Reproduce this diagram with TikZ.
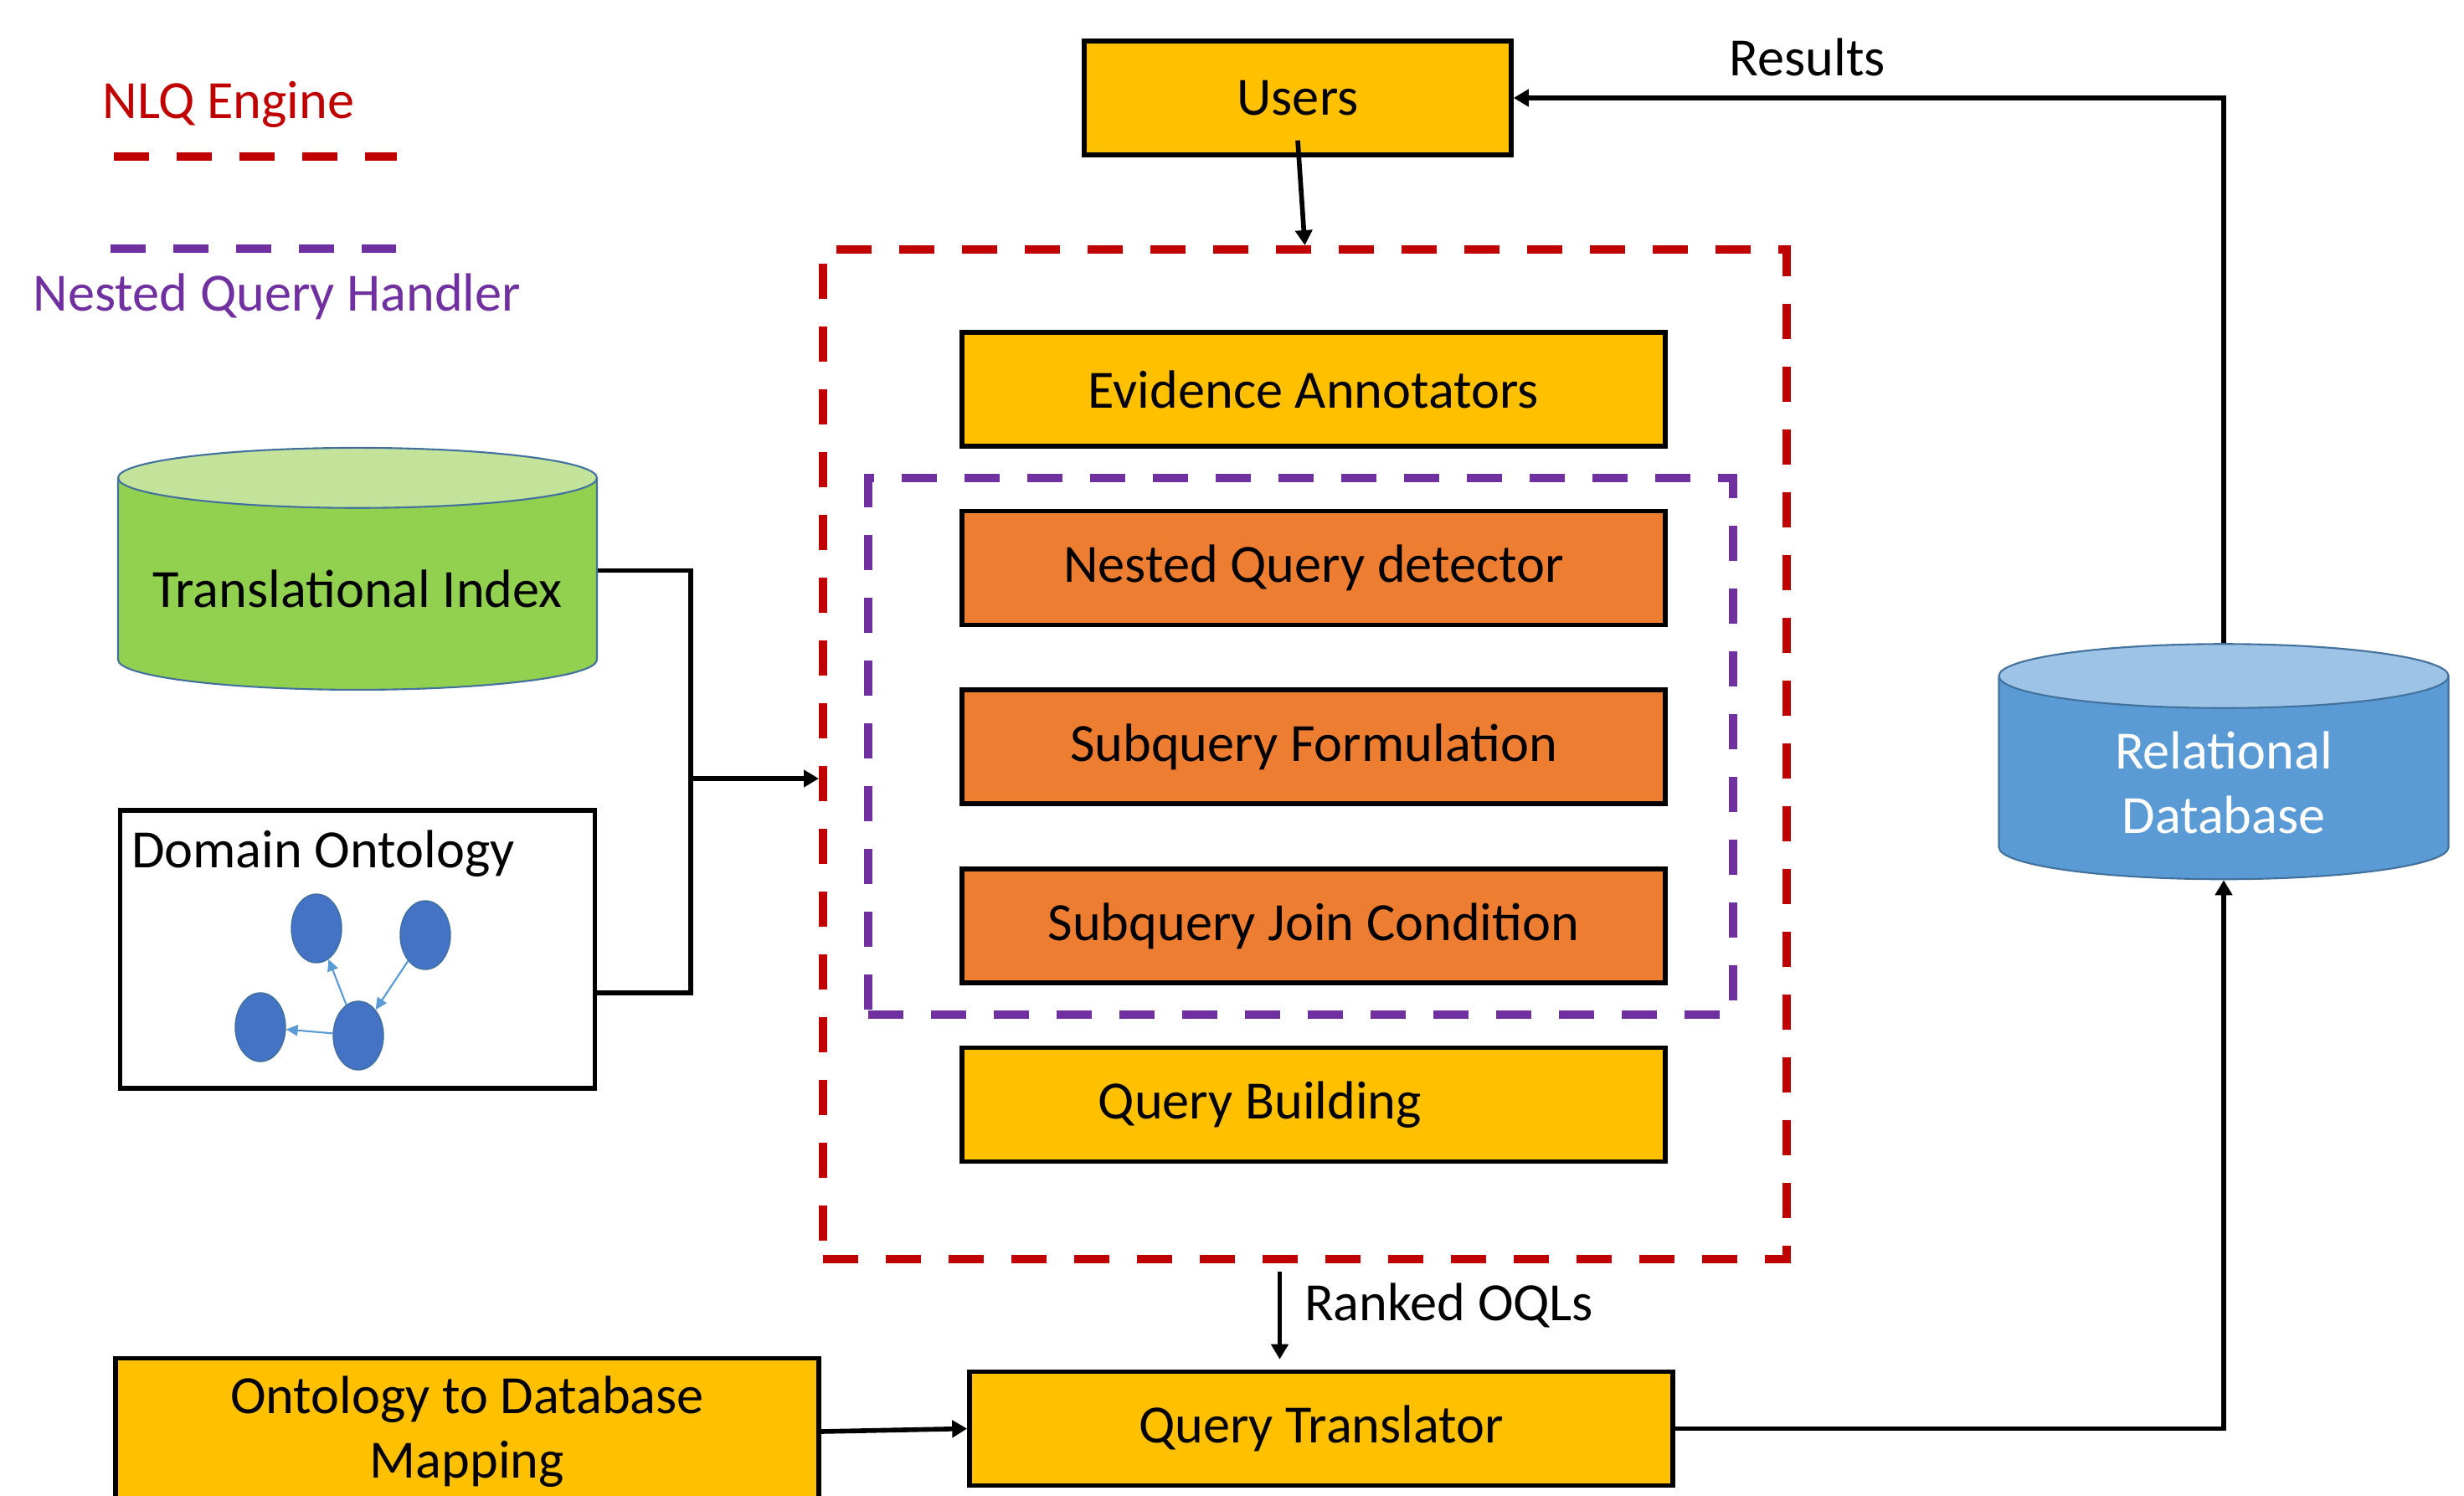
\documentclass[tikz,border=0pt]{standalone}
\usepackage{fontspec}
\setmainfont{Carlito}
\usepackage{tikz}
\usetikzlibrary{positioning,shapes.geometric,arrows.meta,calc}

\definecolor{nlqred}{HTML}{C00000}
\definecolor{nqhpurple}{HTML}{7030A0}
\definecolor{boxyellow}{HTML}{FFC000}
\definecolor{boxorange}{HTML}{ED7D31}
\definecolor{idxgreen}{HTML}{92D050}
\definecolor{idxtop}{HTML}{C3E39B}
\definecolor{dbblue}{HTML}{5B9BD5}
\definecolor{dbtop}{HTML}{9DC3E6}
\definecolor{cylline}{HTML}{41719C}
\definecolor{ontonode}{HTML}{4472C4}

\begin{document}
\begin{tikzpicture}[
    font=\fontsize{18.3}{22}\selectfont,
    node distance = 7.2mm,
    blk/.style    = {draw=black, line width=1.6pt, fill=boxyellow,
                     minimum width=8.4cm, minimum height=1.36cm, align=center},
    nq/.style     = {blk, fill=boxorange},
    cyl/.style    = {cylinder, shape border rotate=90,
                     draw=cylline, line width=0.6pt, cylinder uses custom fill,
                     align=center},
    lnk/.style    = {-{Triangle[length=1.8mm,width=2mm]}, line width=1.6pt},
    wire/.style   = {line width=1.6pt},
    nlqline/.style= {draw=nlqred, line width=1mm, dash pattern=on 4.2mm off 3.3mm},
    nqhline/.style= {nlqline, draw=nqhpurple},
    onode/.style  = {ellipse, fill=ontonode, draw=cylline, line width=0.4pt,
                     minimum width=0.6cm, minimum height=0.82cm, inner sep=0pt},
    olnk/.style   = {-{Triangle[length=1.4mm,width=1.3mm]}, draw=dbblue,
                     line width=0.6pt},
]
\useasboundingbox (0,0) rectangle (29.43,-17.87);

%============================ LEGEND ================================
\node[text=nlqred] (lgnlq) at (2.73,-1.25) {NLQ Engine};
\draw[nlqline] (1.36,-1.87) -- (4.74,-1.87);
\draw[nqhline] (1.32,-2.97) -- (4.73,-2.97);
\node[text=nqhpurple] (lgnqh) at (3.31,-3.54) {Nested Query Handler};

%============================ USERS =================================
\node[blk, minimum width=5.1cm] (users) at (15.50,-1.17) {Users};

%============================ NLQ ENGINE ============================
\node[blk] (evid) at (15.69,-4.65) {Evidence Annotators};
\node[nq, below=of evid] (nqd)  {Nested Query detector};
\node[nq, below=of nqd]  (subf) {Subquery Formulation};
\node[nq, below=of subf] (subj) {Subquery Join Condition};
\node[blk, below=of subj] (qbuild) {};
\node (qbtxt) at ([xshift=-6.4mm]qbuild.center) {Query Building};

\node[nlqline, minimum width=11.51cm, minimum height=12.06cm] (nlq)
      at (15.585,-9.01) {};
\node[nqhline, minimum width=10.33cm, minimum height=6.41cm] (nqh)
      at (15.535,-8.915) {};

%============================ SOURCES ===============================
\node[cyl, aspect=0.14, cylinder body fill=idxgreen, cylinder end fill=idxtop,
      minimum width=5.72cm, minimum height=2.89cm] (tidx)
      at (4.27,-7.03) {Translational Index};

\node[draw=black, line width=1.6pt, fill=white, minimum width=5.67cm,
      minimum height=3.32cm] (onto) at (4.27,-11.34) {};
\node[anchor=west] (ontolbl) at ([xshift=0.4mm,yshift=-5.5mm]onto.north west)
      {Domain Ontology};

% --- small concept graph
\node[onode] (oa) at (3.78,-11.09) {};
\node[onode] (ob) at (5.08,-11.17) {};
\node[onode] (oc) at (3.11,-12.27) {};
\node[onode] (od) at (4.28,-12.37) {};
\draw[olnk] (od) -- (oa);
\draw[olnk] (ob) -- (od);
\draw[olnk] (od) -- (oc);

% --- both sources feed the engine
\coordinate (bus) at (8.25,-9.30);
\draw[wire] (tidx.east |- 0,-6.815) -| (bus) |- ([yshift=-5.2mm]onto.east);
\draw[lnk] (bus) -- (bus -| nlq.west);

%============================ DATABASE ==============================
\node[cyl, aspect=0.27, cylinder body fill=dbblue, cylinder end fill=dbtop,
      text=white, minimum width=5.37cm, minimum height=2.81cm] (rdb)
      at (26.56,-9.35) {Relational\\Database};

%============================ TRANSLATION ===========================
\node[blk] (qtrans) at (15.78,-17.065) {Query Translator};
\node[blk, minimum height=1.75cm] (ontomap) at (5.58,-17.10)
      {Ontology to Database\\Mapping};

%============================ FLOWS =================================
\draw[lnk] ([yshift=2mm]users.south) -- (nlq.north);
\draw[lnk] (rdb.north) |- (users.east);
\node (res) at (21.59,-0.68) {Results};

\draw[lnk, shorten <=1mm, shorten >=1.2mm] ([xshift=-3mm]nlq.south)
      -- ([xshift=-3mm]nlq.south |- qtrans.north)
      node[pos=0.4, right=1.5mm] {Ranked OQLs};
\draw[lnk] (ontomap.east) -- (qtrans.west);
\draw[lnk] (qtrans.east) -| (rdb.south);

\end{tikzpicture}
\end{document}
